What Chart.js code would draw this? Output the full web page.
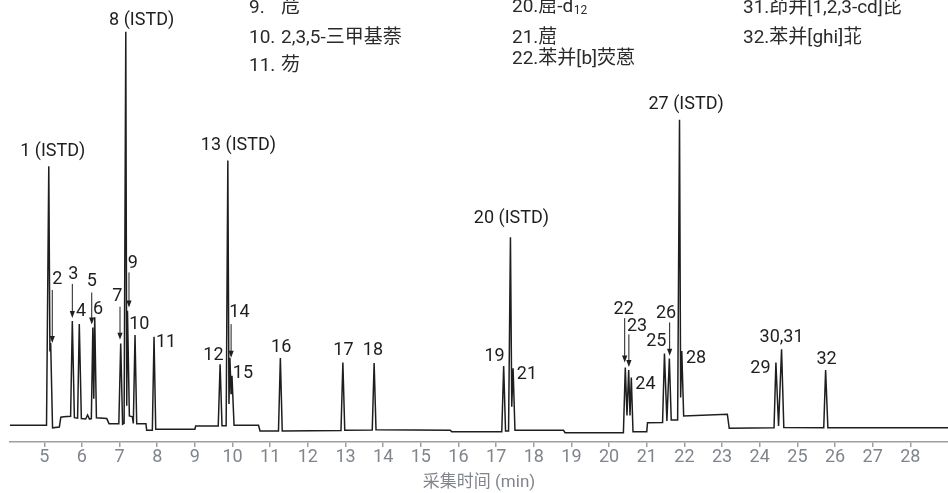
<!DOCTYPE html>
<html>
<head>
<meta charset="utf-8">
<script src="https://cdn.jsdelivr.net/npm/chart.js@4/dist/chart.umd.min.js"></script>
<style>
  html, body { margin: 0; padding: 0; background: #ffffff; }
  #wrap { width: 948px; height: 493px; }
</style>
</head>
<body>
<div id="wrap"><canvas id="chrom" width="948" height="493"></canvas></div>
<script>
// Labelled peaks: retention time (min) and apex signal (relative units)
const peakText = ['1 (ISTD)','2','3','4','5','6','7','8 (ISTD)','9','10','11','12','13 (ISTD)','14','15','16','17','18','19','20 (ISTD)','21','22','23','24','25','26','27 (ISTD)','28','29','30,31','32'];
const peakTime = [5.12,5.17,5.745,5.93,6.29,6.34,7.03,7.165,7.21,7.41,7.915,9.67,9.875,9.93,9.985,11.27,12.93,13.76,17.20,17.38,17.45,20.43,20.52,20.59,21.47,21.60,21.87,21.93,24.43,24.58,25.75];
const peakHeight = [62.4,22.4,27.4,26.7,25.9,28.2,22.3,92.8,29.7,24.2,23.8,17.6,63.7,19.05,15.0,19.0,18.0,17.85,17.2,46.3,16.7,16.85,16.3,14.6,20.0,18.9,72.9,20.6,18.0,21.0,16.3];

// Baseline / valley vertices of the trace between the peak apexes
const baseTime = [4.09,5.06,5.15,5.22,5.40,5.44,5.52,5.70,5.80,5.885,5.985,6.10,6.15,6.20,6.25,6.315,6.385,6.66,6.72,6.98,7.08,7.12,7.19,7.26,7.34,7.365,7.455,7.70,7.72,7.87,7.96,9.00,9.02,9.62,9.72,9.83,9.905,9.96,10.04,10.69,10.73,11.22,11.32,12.88,12.98,13.71,13.81,15.78,15.82,17.15,17.25,17.33,17.415,17.50,18.79,18.83,20.38,20.475,20.555,20.635,21.00,21.02,21.42,21.535,21.65,21.82,21.90,21.98,23.14,23.19,24.38,24.50,24.64,25.70,25.81,29.0];
const baseSignal = [3.79,3.79,20.5,3.2,3.4,5.6,5.7,5.8,5.5,5.4,5.3,5.2,6.1,5.2,5.3,9.8,5.5,5.3,4.15,4.15,4.0,4.2,8.2,5.9,5.7,4.2,4.15,4.15,2.65,2.65,2.9,2.9,3.63,3.63,3.7,3.7,8.6,11.0,3.8,3.79,2.49,2.49,2.5,2.6,2.65,2.7,2.75,2.65,2.34,2.34,2.5,2.5,8.0,2.65,2.65,2.11,2.11,6.0,6.0,2.34,2.34,4.38,4.4,4.76,4.99,5.0,10.05,5.9,6.3,3.1,3.2,3.6,3.3,3.24,3.24,3.24];

// Time axis ticks (min)
const tickValues = [5,6,7,8,9,10,11,12,13,14,15,16,17,18,19,20,21,22,23,24,25,26,27,28];

// Compound key (visible part)
const keyNumbers = ['9.','10.','11.','20.','21.','22.','31.','32.'];
const keyNames = ['苊','2,3,5-三甲基萘','芴','䓛-d','䓛','苯并[b]荧蒽','茚并[1,2,3-cd]芘','苯并[ghi]苝'];
const keySubscripts = ['','','','12','','','',''];

// ---- layout of the annotations (pixel offsets from each apex) ----
const labelLayout = [
  {dx:4,dy:-15},
  {dx:6.6,dy:-63,arrow:[1.6,-53,0]},
  {dx:1,dy:-46,arrow:[0,-37,-3]},
  {dx:1.7,dy:-12},
  {dx:-1.1,dy:-46,arrow:[-1.1,-35,-3]},
  {dx:3.3,dy:-8.3},
  {dx:-3.4,dy:-46.7,arrow:[-0.7,-36.7,-3.7]},
  {dx:15.9,dy:-11.7},
  {dx:5.2,dy:-47.3,arrow:[1.5,-38.3,-3.3]},
  {dx:4.3,dy:-11},
  {dx:12,dy:5.7},
  {dx:-6.7,dy:-8.4},
  {dx:10.6,dy:-15.1},
  {dx:9.5,dy:-45.3,arrow:[1.2,-33.7,0]},
  {dx:11,dy:-2},
  {dx:0.8,dy:-10.5},
  {dx:0.6,dy:-11.6},
  {dx:-1.2,dy:-12.3},
  {dx:-9.1,dy:-9.4},
  {dx:1,dy:-19},
  {dx:13.9,dy:6.6},
  {dx:-1.6,dy:-58.4,arrow:[-0.6,-49.4,-5]},
  {dx:8.4,dy:-43.1,arrow:[0.2,-35.6,-3]},
  {dx:14.1,dy:6.7},
  {dx:-8.1,dy:-11.8},
  {dx:-3.3,dy:-45,arrow:[0.3,-36,-2.7]},
  {dx:6.6,dy:-15},
  {dx:14.3,dy:7.1},
  {dx:-15.5,dy:5.7},
  {dx:0,dy:-11.7},
  {dx:0.9,dy:-10.8}
];
// key block positions: [numberX, nameX, y]
const keyLayout = [
  [249,281,8],[249,281,38],[249,281,66],
  [512,null,7],[512,null,38],[512,null,59],
  [743,null,8],[743,null,38]
];

// Merge apexes and baseline vertices into one time-ordered trace
const trace = baseTime.map((t, i) => ({x: t, y: baseSignal[i]}))
  .concat(peakTime.map((t, i) => ({x: t, y: peakHeight[i]})))
  .sort((a, b) => a.x - b.x);

const FONT = 'Roboto, "Noto Sans CJK SC", sans-serif';
const INK = '#1e1e1e';

const annotations = {
  id: 'peakAnnotations',
  afterDatasetsDraw(chart) {
    const ctx = chart.ctx;
    const xs = chart.scales.x, ys = chart.scales.y;
    ctx.save();
    ctx.fillStyle = INK;
    ctx.strokeStyle = INK;
    ctx.lineWidth = 1;
    ctx.font = '18px ' + FONT;
    ctx.textAlign = 'center';
    ctx.textBaseline = 'middle';
    peakText.forEach((txt, i) => {
      const px = xs.getPixelForValue(peakTime[i]);
      const py = ys.getPixelForValue(peakHeight[i]);
      const L = labelLayout[i];
      ctx.fillText(txt, px + L.dx, py + L.dy);
      if (L.arrow) {
        const ax = px + L.arrow[0];
        const top = py + L.arrow[1];
        const tip = py + L.arrow[2];
        ctx.beginPath();
        ctx.moveTo(ax, top);
        ctx.lineTo(ax, tip - 5);
        ctx.stroke();
        ctx.beginPath();
        ctx.moveTo(ax, tip);
        ctx.lineTo(ax - 2.6, tip - 7);
        ctx.lineTo(ax + 2.6, tip - 7);
        ctx.closePath();
        ctx.fill();
      }
    });

    // compound key
    ctx.textAlign = 'left';
    ctx.fillStyle = '#2a2a2a';
    keyNumbers.forEach((num, i) => {
      const [nx, namex, y] = keyLayout[i];
      ctx.font = '19px ' + FONT;
      if (namex !== null) {
        ctx.fillText(num, nx, y);
        ctx.fillText(keyNames[i], namex, y);
      } else {
        const s = num + keyNames[i];
        ctx.fillText(s, nx, y);
        if (keySubscripts[i]) {
          const w = ctx.measureText(s).width;
          ctx.font = '12px ' + FONT;
          ctx.fillText(keySubscripts[i], nx + w + 0.5, y + 4);
        }
      }
    });
    ctx.restore();
  }
};

new Chart(document.getElementById('chrom'), {
  type: 'line',
  data: {
    datasets: [{
      data: trace,
      borderColor: INK,
      borderWidth: 1.5,
      pointRadius: 0,
      tension: 0,
      fill: false
    }]
  },
  options: {
    responsive: false,
    devicePixelRatio: 1,
    animation: false,
    parsing: true,
    layout: { padding: { left: 10, right: 0, top: 0, bottom: 0 } },
    plugins: { legend: { display: false }, tooltip: { enabled: false } },
    scales: {
      x: {
        type: 'linear',
        min: 4.09,
        max: 29.0,
        afterBuildTicks: (scale) => { scale.ticks = tickValues.map(v => ({ value: v })); },
        grid: { drawOnChartArea: false, drawTicks: true, tickLength: 5, color: '#9ba0a6', lineWidth: 1.5 },
        border: { display: true, color: '#9ba0a6', width: 1.5 },
        ticks: {
          color: '#80858c',
          font: { family: FONT, size: 18 },
          padding: 0,
          maxRotation: 0,
          autoSkip: false,
          callback: (v) => String(v)
        },
        title: {
          display: true,
          text: '采集时间 (min)',
          color: '#80858c',
          font: { family: FONT, size: 17 },
          padding: { top: 4, bottom: 0 }
        }
      },
      y: {
        display: false,
        min: 0,
        max: 100
      }
    }
  },
  plugins: [annotations]
});
</script>
</body>
</html>
